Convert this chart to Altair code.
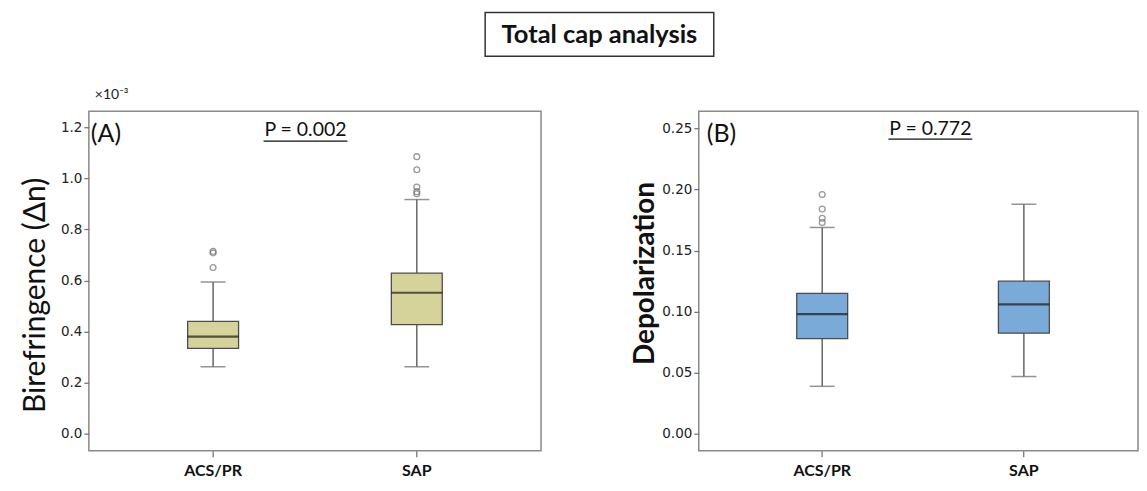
import altair as alt
import pandas as pd

groups = ["ACS/PR", "SAP"]

# Panel A: birefringence (x 10^-3)
bire_low = [0.262, 0.262]
bire_q1 = [0.334, 0.427]
bire_med = [0.380, 0.552]
bire_q3 = [0.440, 0.629]
bire_high = [0.594, 0.917]
bire_out_group = ["ACS/PR", "ACS/PR", "ACS/PR", "SAP", "SAP", "SAP", "SAP", "SAP"]
bire_out_vals = [0.651, 0.708, 0.714, 0.940, 0.948, 0.966, 1.034, 1.085]
bire_ticks = [0.0, 0.2, 0.4, 0.6, 0.8, 1.0, 1.2]

# Panel B: depolarization
depo_low = [0.039, 0.047]
depo_q1 = [0.078, 0.0825]
depo_med = [0.098, 0.106]
depo_q3 = [0.115, 0.125]
depo_high = [0.169, 0.188]
depo_out_group = ["ACS/PR", "ACS/PR", "ACS/PR", "ACS/PR"]
depo_out_vals = [0.173, 0.1765, 0.184, 0.196]
depo_ticks = [0.00, 0.05, 0.10, 0.15, 0.20, 0.25]

FONT = "Lato"
TICKFONT = "DejaVu Sans"


def panel(low, q1, med, q3, high, og, ov, ydomain, yticks, yfmt, ytitle,
          tweight, tsize, tpad, ty, fill, width, xscale, letter, lx, ly, ptext, px, py,
          ux1, ux2, uy, extra_layers=None):
    stats = pd.DataFrame({"group": groups, "low": low, "q1": q1, "med": med,
                          "q3": q3, "high": high})
    outs = pd.DataFrame({"group": og, "v": ov})
    x = alt.X("group:N", sort=groups, scale=xscale, title=None,
              axis=alt.Axis(labelAngle=0, labelFont=FONT, labelFontWeight="bold",
                            labelFontSize=16, labelColor="#111", labelPadding=6,
                            tickSize=6, tickColor="#777", tickWidth=1.3,
                            domain=False))
    yscale = alt.Scale(domain=ydomain, nice=False, zero=False)
    yaxis = alt.Axis(values=yticks, format=yfmt, grid=False, domain=False,
                     tickSize=5, tickColor="#777", tickWidth=1.3, labelPadding=2,
                     labelFont=TICKFONT, labelFontSize=13.5, labelColor="#222",
                     titleFont=FONT, titleFontSize=tsize, titleFontWeight=tweight,
                     titleColor="#111", titlePadding=tpad, titleY=ty)
    base = alt.Chart(stats)
    whisk = base.mark_rule(color="#666", strokeWidth=1.5).encode(
        x=x, y=alt.Y("low:Q", scale=yscale, axis=yaxis, title=ytitle), y2="high:Q")
    cap_lo = base.mark_tick(color="#666", size=25, thickness=1.5).encode(x=x, y="low:Q")
    cap_hi = base.mark_tick(color="#666", size=25, thickness=1.5).encode(x=x, y="high:Q")
    box = base.mark_bar(size=51, fill=fill, stroke="#4d4d4d", strokeWidth=1.3).encode(
        x=x, y="q1:Q", y2="q3:Q")
    median = base.mark_tick(color="#1a1a1a", size=51, thickness=2.2).encode(x=x, y="med:Q")
    pts = alt.Chart(outs).mark_point(shape="circle", filled=False, size=34,
                                     color="#707070", strokeWidth=1.3).encode(
        x=x, y="v:Q")
    one = pd.DataFrame({"a": [0]})
    lab = alt.Chart(pd.DataFrame({"t": [letter]})).mark_text(
        font=FONT, fontSize=25, align="left", baseline="middle", color="#111").encode(
        text="t:N", x=alt.value(lx), y=alt.value(ly))
    ptx = alt.Chart(pd.DataFrame({"t": [ptext]})).mark_text(
        font=FONT, fontSize=19.5, align="center", baseline="middle", color="#111").encode(
        text="t:N", x=alt.value(px), y=alt.value(py))
    ul = alt.Chart(one).mark_rule(color="#111", strokeWidth=1.3).encode(
        x=alt.value(ux1), x2=alt.value(ux2), y=alt.value(uy))
    layers = [whisk, cap_lo, cap_hi, box, median, pts, lab, ptx, ul]
    if extra_layers:
        layers += extra_layers
    return alt.layer(*layers).properties(width=width, height=340)


one = pd.DataFrame({"a": [0]})
title_box = alt.Chart(one).mark_rect(fill="white", stroke="#333", strokeWidth=1.5).encode(
    x=alt.value(397), x2=alt.value(626), y=alt.value(-99), y2=alt.value(-55))
title_txt = alt.Chart(pd.DataFrame({"t": ["Total cap analysis"]})).mark_text(
    font=FONT, fontSize=25.5, fontWeight="bold", align="center", baseline="middle",
    color="#111").encode(text="t:N", x=alt.value(511.5), y=alt.value(-76))
exp_txt = alt.Chart(pd.DataFrame({"t": ["×10⁻³"]})).mark_text(
    font=FONT, fontSize=14, align="left", baseline="middle", color="#222").encode(
    text="t:N", x=alt.value(6), y=alt.value(-16))

scaleA = alt.Scale(paddingInner=0.5, paddingOuter=0.36)
scaleB = alt.Scale(paddingInner=0.5, paddingOuter=0.339, align=0.534)

pA = panel(bire_low, bire_q1, bire_med, bire_q3, bire_high, bire_out_group,
           bire_out_vals, [-0.0666, 1.263], bire_ticks, ".1f",
           "Birefringence (Δn)", "normal", 30, 10, 184, "#d6d39a", 453, scaleA,
           "(A)", 2, 23, "P = 0.002", 217, 19, 175, 259, 30,
           extra_layers=[title_box, title_txt, exp_txt])
pB = panel(depo_low, depo_q1, depo_med, depo_q3, depo_high, depo_out_group,
           depo_out_vals, [-0.01364, 0.2641], depo_ticks, ".2f",
           "Depolarization", "bold", 28, 2, 162, "#7aaad8", 440, scaleB,
           "(B)", 8, 23, "P = 0.772", 232, 18, 190, 274, 28)

chart = alt.hconcat(pA, pB, spacing=158, bounds="flush").properties(
    padding={"top": 2, "left": 11, "right": 0, "bottom": 5}
).configure_view(stroke="#8a8a8a", strokeWidth=1.5)

chart.save("out.html", embed_options={"renderer": "svg", "actions": False})
